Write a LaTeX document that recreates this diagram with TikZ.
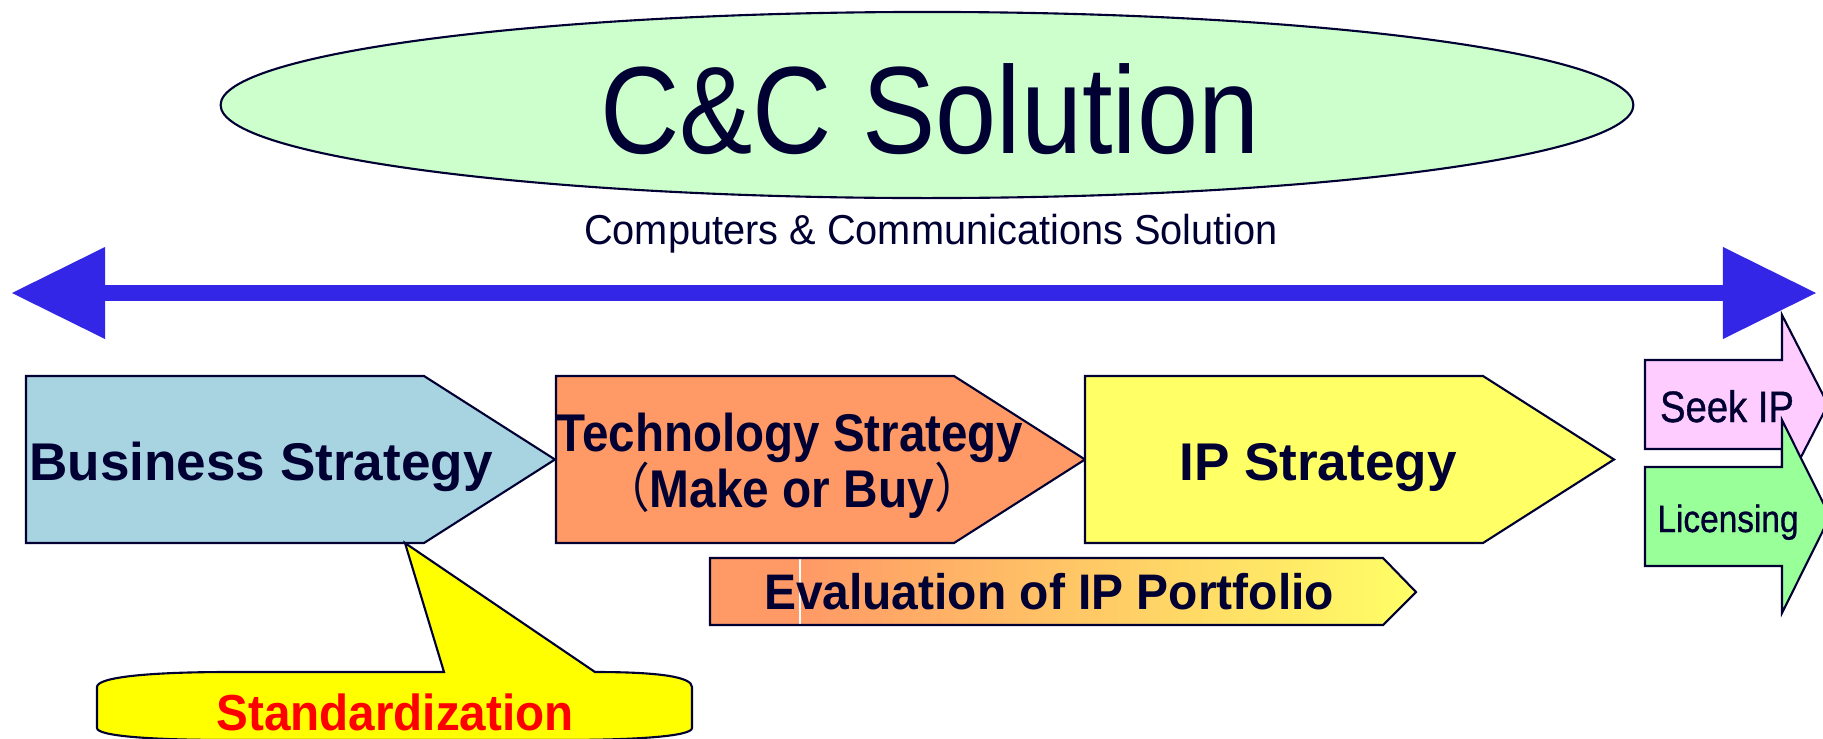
\documentclass[tikz,border=0pt]{standalone}
\usepackage{graphicx}
\usepackage{fontspec}
\setmainfont{Liberation Sans}
\newfontfamily\cjkfont{Noto Sans CJK JP}
\newfontfamily\outcomefont[FakeBold=0.9]{Liberation Sans}
\usetikzlibrary{arrows.meta}

\definecolor{navy}{RGB}{0,0,51}
\definecolor{mint}{RGB}{204,255,204}
\definecolor{ccblue}{RGB}{51,38,230}
\definecolor{bizblue}{RGB}{168,211,224}
\definecolor{techorange}{RGB}{255,153,102}
\definecolor{ipyellow}{RGB}{255,255,102}
\definecolor{seekpink}{RGB}{255,204,255}
\definecolor{licgreen}{RGB}{153,255,153}
\definecolor{stdyellow}{RGB}{255,255,0}
\definecolor{stdred}{RGB}{255,0,0}

\tikzset{
  outline/.style={draw=navy, line width=0.6pt, line join=miter},
  label/.style={anchor=base, inner sep=0pt, text=navy},
  bigtext/.style={label, font=\bfseries\fontsize{15.1}{16}\selectfont},
  smalltext/.style={label, font=\outcomefont\fontsize{#1}{14}\selectfont},
  spantip/.tip={Triangle[length=0.93cm, width=0.92cm, line width=0pt]}
}

\begin{document}
\begin{tikzpicture}[x=0.01cm, y=-0.01cm]
  \useasboundingbox (0,0) rectangle (1823,739);

  % title
  \draw[outline, fill=mint] (927,105) ellipse [x radius=7.06cm, y radius=0.93cm];
  \node[label, font=\fontsize{35.3}{40}\selectfont] (title) at (930,153)
    {\scalebox{0.885}[1]{C\&C Solution}};
  \node[label, font=\fontsize{11.9}{14}\selectfont] (subtitle) at (931,244)
    {\scalebox{0.95}[1]{Computers \& Communications Solution}};

  % span arrow
  \coordinate (west) at (12,293);
  \coordinate (east) at (1816,293);
  \draw[ccblue, line width=4.27pt, spantip-spantip] (west) -- (east);

  % strategy chain
  \foreach \x/\c in {26/bizblue, 556/techorange, 1085/ipyellow}
    \draw[outline, fill=\c]
      (\x,376) -- ++(398,0) -- ++(131,83.5) -- ++(-131,83.5) -- ++(-398,0) -- cycle;
  \node[bigtext] (business) at (261,480) {Business Strategy};
  \node[bigtext] (technology) at (790,451) {\scalebox{0.895}[1]{Technology Strategy}};
  \node[bigtext] (makebuy) at (792,507)
    {\scalebox{0.9}[1]{{\mdseries\cjkfont （}Make or Buy{\mdseries\cjkfont ）}}};
  \node[bigtext] (ipstrategy) at (1318,480) {IP Strategy};

  % portfolio
  \fill[techorange] (710,558) rectangle (800,625);
  \shade[left color=techorange, right color=ipyellow]
    (800,558) -- (1383,558) -- (1416,592) -- (1383,625) -- (800,625) -- cycle;
  \draw[white, line width=0.4pt] (800,559) -- (800,624);
  \draw[outline] (710,558) -- (1383,558) -- (1416,592) -- (1383,625) -- (710,625) -- cycle;
  \node[bigtext, font=\bfseries\fontsize{14.2}{16}\selectfont] (portfolio) at (1049,609)
    {\scalebox{0.96}[1]{Evaluation of IP Portfolio}};

  % callout
  \draw[outline, fill=stdyellow]
    (97,687) .. controls (97,677) and (150,672) .. (230,672)
    -- (444,672) -- (405,543) -- (595,672)
    .. controls (660,672) and (692,677) .. (692,687)
    -- (692,728) .. controls (692,736) and (640,740) .. (560,740)
    -- (230,740) .. controls (150,740) and (97,736) .. (97,728) -- cycle;
  \node[bigtext, text=stdred, font=\bfseries\fontsize{14.4}{16}\selectfont] (standard) at (395,730)
    {\scalebox{0.94}[1]{Standardization}};

  % outcomes
  \draw[outline, fill=seekpink]
    (1645,360) -- (1782,360) -- (1782,315) -- (1828,404.5)
    -- (1782,494) -- (1782,449) -- (1645,449) -- cycle;
  \draw[outline, fill=licgreen]
    (1645,467) -- (1782,467) -- (1782,420) -- (1830,516.5)
    -- (1782,613) -- (1782,566) -- (1645,566) -- cycle;
  \node[smalltext=12.5] (seekip) at (1727,422) {\scalebox{0.87}[1]{Seek IP}};
  \node[smalltext=10.8] (licensing) at (1728,532) {\scalebox{0.88}[1]{Licensing}};
\end{tikzpicture}
\end{document}
